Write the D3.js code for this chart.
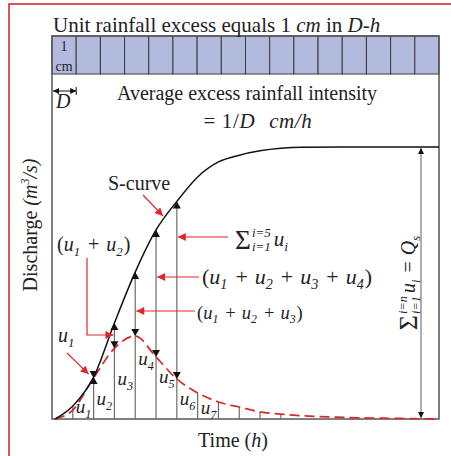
<!DOCTYPE html>
<html>
<head>
<meta charset="utf-8">
<script src="https://cdn.jsdelivr.net/npm/d3@7"></script>
<style>
  body { margin: 0; background: #fff; }
  svg { font-family: "Liberation Serif", "Times New Roman", serif; }
  text { fill: #222; }
</style>
</head>
<body>
<svg width="451" height="456"></svg>
<script>
// temps en multiples de l'intervalle de l'hydrogramme
const temps = [0.15, 1, 2, 3, 4, 5, 6, 7, 8, 9, 10, 11, 12, 14, 16, 18.6];
// courbe en S (fraction de Qs)
const courbe_s = [0, 0.048, 0.154, 0.353, 0.54, 0.695, 0.8, 0.89, 0.945, 0.97, 0.986, 0.995, 0.999, 1, 1, 1];
// hydrogramme unitaire (fraction de Qs)
const hydrogramme = [0, 0.033, 0.151, 0.26, 0.305, 0.228, 0.147, 0.096, 0.0625, 0.044, 0.026, 0.018, 0.012, 0.006, 0.003, 0];
// pas où sont tracées les ordonnées
const ordonnees = [1, 2, 3, 4, 5, 6, 7, 8, 9, 10, 11];
// pas avec les flèches de la somme cumulée
const pas_cumules = [2, 3, 4, 5, 6];
// blocs de pluie de 1 cm
const blocs_pluie = d3.range(16);
// indices des libellés u
const libelles_u = ['1', '2', '3', '4', '5', '6', '7'];

const svg = d3.select('svg');

// échelles
const x = d3.scaleLinear().domain([0, 18.6]).range([52, 439]);
const y = d3.scaleLinear().domain([0, 1]).range([419, 147]);
const x_pluie = d3.scaleBand().domain(blocs_pluie).range([52, 439]);

const valeur = (serie, k) => serie[temps.indexOf(k)];

// pointes de flèches
const defs = svg.append('defs');
function pointe(id, couleur, l, h) {
    defs.append('marker').attr('id', id)
        .attr('viewBox', '0 0 10 10').attr('refX', 10).attr('refY', 5)
        .attr('markerUnits', 'userSpaceOnUse')
        .attr('markerWidth', l).attr('markerHeight', h)
        .attr('orient', 'auto-start-reverse')
        .append('path').attr('d', 'M0,0 L10,5 L0,10 Z').attr('fill', couleur);
}
pointe('rouge', '#e0262a', 10, 8);
pointe('noir', '#111', 7, 6);

// cadre rouge
svg.append('path').attr('d', 'M9,456 V4 H451')
    .attr('fill', 'none').attr('stroke', '#cc1f1f').attr('stroke-width', 1.5);

// blocs de pluie
svg.append('g').selectAll('rect').data(blocs_pluie).join('rect')
    .attr('x', d => x_pluie(d)).attr('y', 36)
    .attr('width', x_pluie.bandwidth()).attr('height', 38)
    .attr('fill', '#b2badd').attr('stroke', '#3a3a3a').attr('stroke-width', 1);

// cadre du graphique
svg.append('rect').attr('x', 52).attr('y', 36).attr('width', 387).attr('height', 383)
    .attr('fill', 'none').attr('stroke', '#555').attr('stroke-width', 1.5);

// écrire une formule morceau par morceau
function formule(morceaux, taille) {
    const g = svg.append('g').style('font-size', taille + 'px');
    let cx = 0;
    morceaux.forEach(m => {
        cx += m.avant || 0;
        if (m.pile) {
            const p = taille * 0.62;
            const a = g.append('text').attr('x', cx).attr('y', -taille * 0.42)
                .style('font-size', p + 'px').style('font-style', 'italic').text(m.pile[0]);
            const b = g.append('text').attr('x', cx).attr('y', taille * 0.26)
                .style('font-size', p + 'px').style('font-style', 'italic').text(m.pile[1]);
            cx += Math.max(a.node().getComputedTextLength(), b.node().getComputedTextLength()) + 3;
            return;
        }
        const fs = m.ind ? taille * 0.64 : taille * (m.grand || 1);
        const t = g.append('text').attr('x', cx)
            .attr('y', m.ind ? taille * 0.24 : (m.grand ? taille * 0.12 : 0))
            .style('font-size', fs + 'px')
            .style('font-style', m.it ? 'italic' : 'normal')
            .text(m.t);
        cx += t.node().getComputedTextLength() + (m.apres || 0);
    });
    return { g: g, l: cx };
}
function placer(f, px, py) {
    f.g.attr('transform', `translate(${px},${py})`);
}
const plus = e => ({ t: '+', avant: e, apres: e });
const u = i => [{ t: 'u', it: true }, { t: i, it: true, ind: true, apres: 1 }];
const sigma = { t: 'Σ', grand: 1.3, apres: 1 };

// titre
svg.append('text').attr('x', 53).attr('y', 32).style('font-size', '21px')
    .call(t => {
        t.append('tspan').text('Unit rainfall excess equals 1 ');
        t.append('tspan').style('font-style', 'italic').text('cm');
        t.append('tspan').text(' in ');
        t.append('tspan').style('font-style', 'italic').text('D-h');
    });

// 1 cm dans le premier bloc
svg.append('text').attr('x', x_pluie(0) + x_pluie.bandwidth() / 2).attr('y', 51)
    .attr('text-anchor', 'middle').style('font-size', '14px').text('1');
svg.append('text').attr('x', x_pluie(0) + x_pluie.bandwidth() / 2).attr('y', 71)
    .attr('text-anchor', 'middle').style('font-size', '14px').text('cm');

// flèche D
svg.append('line').attr('x1', 53).attr('x2', x_pluie(1)).attr('y1', 91).attr('y2', 91)
    .attr('stroke', '#111').attr('stroke-width', 1)
    .attr('marker-start', 'url(#noir)').attr('marker-end', 'url(#noir)');
svg.append('line').attr('x1', x_pluie(1)).attr('x2', x_pluie(1)).attr('y1', 87).attr('y2', 95)
    .attr('stroke', '#111');
svg.append('text').attr('x', 56).attr('y', 108).style('font-size', '20px')
    .style('font-style', 'italic').text('D');

// intensité moyenne
svg.append('text').attr('x', 247).attr('y', 100).attr('text-anchor', 'middle')
    .style('font-size', '20px').text('Average excess rainfall intensity');
svg.append('text').attr('x', 258).attr('y', 128).attr('text-anchor', 'middle')
    .style('font-size', '21px').style('letter-spacing', '0.6px')
    .call(t => {
        t.append('tspan').text('= 1/');
        t.append('tspan').style('font-style', 'italic').text('D');
        t.append('tspan').attr('dx', 14).style('font-style', 'italic').text('cm/h');
    });

// titres des axes
svg.append('text').attr('transform', 'translate(37,225) rotate(-90)')
    .attr('text-anchor', 'middle').style('font-size', '20px')
    .call(t => {
        t.append('tspan').text('Discharge ');
        t.append('tspan').style('font-style', 'italic').text('(m');
        t.append('tspan').style('font-style', 'italic').style('font-size', '12px').attr('dy', -8).text('3');
        t.append('tspan').style('font-style', 'italic').attr('dy', 8).text('/s)');
    });
svg.append('text').attr('x', 233).attr('y', 447).attr('text-anchor', 'middle')
    .style('font-size', '20px')
    .call(t => {
        t.append('tspan').text('Time (');
        t.append('tspan').style('font-style', 'italic').text('h');
        t.append('tspan').text(')');
    });

// ordonnées verticales
svg.append('g').selectAll('line').data(ordonnees).join('line')
    .attr('x1', d => x(d)).attr('x2', d => x(d))
    .attr('y1', y(0))
    .attr('y2', d => y(d <= 6 ? Math.max(valeur(courbe_s, d), valeur(hydrogramme, d)) : valeur(hydrogramme, d)))
    .attr('stroke', '#6b6b6b').attr('stroke-width', 1.2);

// hydrogramme unitaire en tirets
const ligne = d3.line().x(d => x(d[0])).y(d => y(d[1])).curve(d3.curveMonotoneX);
svg.append('path').datum(d3.zip(temps, hydrogramme)).attr('d', ligne)
    .attr('fill', 'none').attr('stroke', '#d62a2a').attr('stroke-width', 1.7)
    .attr('stroke-dasharray', '10,5');

// courbe en S
svg.append('path').datum(d3.zip(temps, courbe_s)).attr('d', ligne)
    .attr('fill', 'none').attr('stroke', '#111').attr('stroke-width', 1.5);

// triangles
svg.append('g').selectAll('path').data(pas_cumules).join('path')
    .attr('transform', d => `translate(${x(d)},${y(valeur(courbe_s, d))})`)
    .attr('d', 'M0,0 L4,7 L-4,7 Z').attr('fill', '#111');
svg.append('g').selectAll('path').data(pas_cumules).join('path')
    .attr('transform', d => `translate(${x(d)},${y(valeur(hydrogramme, d))})`)
    .attr('d', 'M0,0 L4,-7 L-4,-7 Z').attr('fill', '#111');

// flèche Qs
svg.append('line').attr('x1', 421).attr('x2', 421).attr('y1', y(0) - 1).attr('y2', y(1) + 1)
    .attr('stroke', '#777').attr('stroke-width', 1.2)
    .attr('marker-start', 'url(#noir)').attr('marker-end', 'url(#noir)');

// libellés u_k
const base_u = [413, 405, 385, 365, 383, 405, 414];
libelles_u.forEach((s, i) => placer(formule(u(s), 19), x(i + 1) + 3, base_u[i]));

// annotations rouges
function fleche(d) {
    svg.append('path').attr('d', d).attr('fill', 'none')
        .attr('stroke', '#e0262a').attr('stroke-width', 1.2)
        .attr('marker-end', 'url(#rouge)');
}
svg.append('text').attr('x', 108).attr('y', 190).style('font-size', '20px').text('S-curve');
fleche('M143,195 L163,216');

placer(formule(u('1'), 20), 58, 342);
fleche(`M67,353 L${x(2) - 5},${y(valeur(courbe_s, 2)) - 3}`);

placer(formule([{ t: '(' }, ...u('1'), plus(7), ...u('2'), { t: ')' }], 20), 57, 251);
fleche(`M87,258 V335 H${x(3) - 1}`);

placer(formule([{ t: '(' }, ...u('1'), plus(6), ...u('2'), plus(6), ...u('3'), { t: ')' }], 18.5), 197, 319);
fleche(`M195,311 H${x(4) + 1}`);

placer(formule([{ t: '(' }, ...u('1'), plus(7), ...u('2'), plus(7), ...u('3'), plus(7), ...u('4'), { t: ')' }], 22), 202, 284);
fleche(`M199,277 H${x(5) + 1}`);

placer(formule([sigma, { pile: ['i=5', 'i=1'] }, ...u('i')], 21), 235, 246);
fleche(`M228,237 H${x(6) + 1}`);

// somme totale le long de la flèche
const total = formule([sigma, { pile: ['i=n', 'i=1'] }, ...u('i'), { t: '=', avant: 6, apres: 6 }, { t: 'Q', it: true }, { t: 's', it: true, ind: true }], 20);
total.g.attr('transform', `translate(415,${283 + total.l / 2}) rotate(-90)`);
</script>
</body>
</html>
